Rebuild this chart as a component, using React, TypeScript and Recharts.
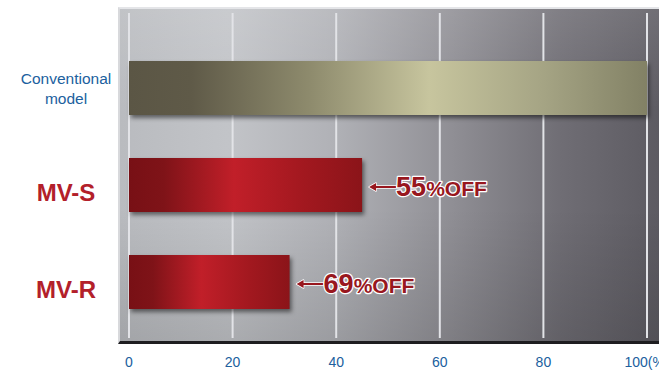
import { BarChart, Bar, XAxis, YAxis, CartesianGrid, Cell, LabelList } from 'recharts';

// categories and values
const categories = ['Conventional model', 'MV-S', 'MV-R'];
const energyUse = [100, 45, 31];
const reduction: (number | null)[] = [null, 55, 69];
const xTicks = [0, 20, 40, 60, 80, 100];

const data = categories.map((name, i) => ({ name, value: energyUse[i], off: reduction[i] }));

const FONT = '"Liberation Sans", Arial, Helvetica, sans-serif';
const BLUE = '#20609e';
const RED = '#b3202a';
const DARK_RED = '#98171e';

const fills = ['url(#gradConv)', 'url(#gradRed)', 'url(#gradRed)'];

function YTick({ y, payload }: any) {
  const name: string = payload.value;
  if (name === 'Conventional model') {
    return (
      <text x={66} y={y} textAnchor="middle" fontFamily={FONT} fontSize={15.5} fill={BLUE}>
        <tspan x={66} dy={-4}>Conventional</tspan>
        <tspan x={66} dy={20}>model</tspan>
      </text>
    );
  }
  return (
    <text x={66} y={y + 16} textAnchor="middle" fontFamily={FONT} fontSize={24} fontWeight="bold" fill={RED}>
      {name}
    </text>
  );
}

function XTick({ x, y, payload }: any) {
  const v = payload.value;
  return (
    <text x={x} y={y + 29} textAnchor="middle" fontFamily={FONT} fontSize={14} fill={BLUE}>
      {v === 100 ? '100(%)' : v}
    </text>
  );
}

function OffLabel({ x, y, width, height, index }: any) {
  const off = reduction[index];
  if (off == null) return null;
  const sx = x + width + 7;
  const cy = y + height / 2 + 2;
  const arrow = `M${sx} ${cy} L${sx + 7} ${cy - 4} L${sx + 7} ${cy - 1} L${sx + 27} ${cy - 1} L${sx + 27} ${cy + 1} L${sx + 7} ${cy + 1} L${sx + 7} ${cy + 4} Z`;
  return (
    <g>
      <path d={arrow} fill={DARK_RED} stroke="#fff" strokeWidth={1.5} paintOrder="stroke" strokeLinejoin="round" />
      <text
        x={sx + 27}
        y={cy + 9}
        fontFamily={FONT}
        fontWeight="bold"
        fill={DARK_RED}
        stroke="#fff"
        strokeWidth={2.5}
        paintOrder="stroke"
        strokeLinejoin="round"
      >
        <tspan fontSize={27}>{off}</tspan>
        <tspan fontSize={21}>%OFF</tspan>
      </text>
    </g>
  );
}

export default function App() {
  return (
    <div style={{ position: 'relative', width: 659, height: 373, overflow: 'hidden', background: '#fff' }}>
      <style>{'body{margin:0}'}</style>
      {/* brushed metal panel behind the plot */}
      <div
        style={{
          position: 'absolute',
          left: 118,
          top: 7,
          width: 541,
          height: 337,
          boxSizing: 'border-box',
          borderTop: '2px solid #e4e5e8',
          borderLeft: '2px solid #d8d9dc',
          borderBottom: '3px solid #1e1d20',
          background:
            'linear-gradient(to bottom, rgba(255,255,255,0.12) 0%, rgba(255,255,255,0) 30%, rgba(0,0,0,0) 60%, rgba(0,0,0,0.12) 100%), linear-gradient(to right, #b9bbbf 0%, #c2c4c8 20%, #b0b1b6 40%, #8f8e94 62%, #6f6d74 82%, #5d5b62 100%)',
        }}
      />
      <div style={{ position: 'absolute', left: 0, top: 0 }}>
        <BarChart
          width={659}
          height={373}
          data={data}
          layout="vertical"
          margin={{ top: 13, right: 12, bottom: 0, left: 0 }}
        >
          <defs>
            <linearGradient id="gradConv" x1="0" y1="0" x2="1" y2="0">
              <stop offset="0%" stopColor="#5b5645" />
              <stop offset="12%" stopColor="#5f5a48" />
              <stop offset="35%" stopColor="#8e8b6d" />
              <stop offset="58%" stopColor="#c7c59e" />
              <stop offset="80%" stopColor="#a5a484" />
              <stop offset="100%" stopColor="#828165" />
            </linearGradient>
            <linearGradient id="gradRed" x1="0" y1="0" x2="1" y2="0">
              <stop offset="0%" stopColor="#781015" />
              <stop offset="15%" stopColor="#7f1318" />
              <stop offset="45%" stopColor="#c11f29" />
              <stop offset="75%" stopColor="#a2181f" />
              <stop offset="100%" stopColor="#8b1419" />
            </linearGradient>
          </defs>
          <CartesianGrid horizontal={false} stroke="#e2e3e7" strokeWidth={2} />
          <XAxis
            type="number"
            domain={[0, 100]}
            ticks={xTicks}
            axisLine={false}
            tickLine={false}
            tickSize={0}
            tickMargin={0}
            height={35}
            tick={<XTick />}
            interval={0}
          />
          <YAxis
            type="category"
            dataKey="name"
            width={129}
            axisLine={false}
            tickLine={false}
            tick={<YTick />}
            padding={{ top: 26, bottom: 8 }}
          />
          <Bar
            dataKey="value"
            barSize={54}
            isAnimationActive={false}
            style={{ filter: 'drop-shadow(2px 3px 2px rgba(0,0,0,0.5))' }}
          >
            {data.map((d, i) => (
              <Cell key={d.name} fill={fills[i]} />
            ))}
            <LabelList dataKey="off" content={<OffLabel />} />
          </Bar>
        </BarChart>
      </div>
    </div>
  );
}
